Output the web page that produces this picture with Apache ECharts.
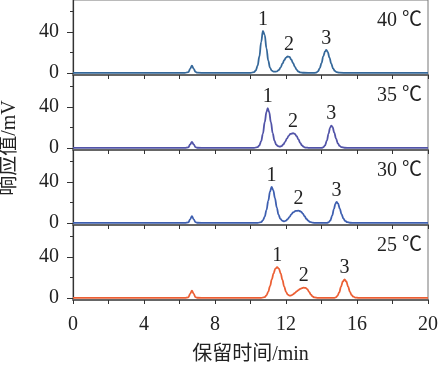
<!DOCTYPE html>
<html><head><meta charset="utf-8">
<script src="https://cdn.jsdelivr.net/npm/echarts@6/dist/echarts.min.js"></script>
<style>html,body{margin:0;padding:0;background:#fff}#c{width:441px;height:373px}</style>
</head><body><div id="c"></div>
<script>
// ---- data (retention time in min, response in mV) ----
const tempLabels = ['40 ℃', '35 ℃', '30 ℃', '25 ℃'];
const peakNames = ['1', '2', '3'];

const t40 = [0,2,4,6,6.3,6.5,6.6,6.7,6.8,6.9,7.0,7.5,9,10,10.2,10.3,10.4,10.5,10.6,10.7,10.8,10.9,11.0,11.1,11.2,11.3,11.4,11.5,11.6,11.7,11.8,11.9,12.0,12.1,12.2,12.3,12.4,12.5,12.6,12.7,12.8,13.0,13.5,13.7,13.8,13.9,14.0,14.1,14.2,14.27,14.35,14.45,14.55,14.65,14.75,14.85,15.0,15.5,17,20];
const v40 = [0,0,0,0,0,0.8,4,7,4,1,0.3,0,0,0,0.8,2.5,7,16,30,41,37,24,12,5,2.2,1.3,1.2,1.6,3,5.5,9,12.5,15,16,15.5,13,9.5,6,3,1.4,0.6,0.2,0,0.3,1.5,4.5,9.5,16,21,22.4,20.5,15,9,4.5,2,0.8,0.3,0,0,0];

const t35 = [0,2,4,6,6.3,6.5,6.6,6.7,6.8,6.9,7.0,7.5,9,10.2,10.4,10.5,10.6,10.7,10.8,10.9,10.97,11.05,11.15,11.25,11.35,11.45,11.55,11.65,11.75,11.85,11.95,12.05,12.15,12.25,12.4,12.5,12.6,12.7,12.8,12.9,13.0,13.1,13.3,14.0,14.1,14.2,14.3,14.4,14.48,14.55,14.62,14.72,14.82,14.92,15.02,15.12,15.3,15.6,17,20];
const v35 = [0,0,0,0,0,0.6,3.5,6,3.5,0.8,0.2,0,0,0,0.8,2.5,6.5,14,25,35,38.7,35,25,14.5,7,3.2,1.7,1.3,1.8,3.5,6,9,11.8,13.6,14.3,13.6,11.5,8.3,5,2.5,1.1,0.4,0,0,0.6,2.5,7,14,19.5,21.8,20.5,15,9,4.5,2,0.8,0.2,0,0,0];

const t30 = [0,2,4,6,6.3,6.5,6.6,6.7,6.8,6.9,7.0,7.5,9,10.4,10.6,10.7,10.8,10.9,11.0,11.1,11.19,11.28,11.38,11.48,11.58,11.68,11.8,11.9,12.0,12.1,12.2,12.3,12.4,12.55,12.7,12.85,12.95,13.05,13.15,13.25,13.35,13.5,13.7,14.3,14.4,14.5,14.6,14.7,14.78,14.85,14.93,15.03,15.13,15.23,15.33,15.45,15.6,15.9,17,20];
const v30 = [0,0,0,0,0,0.6,3.5,6.5,3.5,0.8,0.2,0,0,0,0.8,2.5,6,12.5,21.5,30.5,35,32,24,15,8,4,2,1.6,2.2,3.8,6,8.3,10.2,11.7,12,11,9,6.5,4,2.2,1,0.3,0,0,0.6,2.5,7,13.5,18.5,20.5,19,14,8.5,4.5,2,0.8,0.2,0,0,0];

const t25 = [0,2,4,6,6.3,6.5,6.6,6.7,6.8,6.9,7.0,7.5,9,10.6,10.8,10.9,11.0,11.1,11.2,11.3,11.4,11.5,11.6,11.7,11.8,11.9,12.0,12.1,12.2,12.3,12.4,12.5,12.6,12.7,12.8,12.9,13.0,13.1,13.2,13.3,13.4,13.5,13.6,13.8,14.7,14.8,14.9,15.0,15.1,15.2,15.3,15.4,15.5,15.6,15.7,15.8,15.9,16.1,17,20];
const v25 = [0,0,0,0,0,0.6,4,7,4,0.8,0.2,0,0,0,0.8,2.5,6,11.5,18,24,28.5,30,28.5,24,17.5,11,6,3.2,2.2,2.5,3.5,4.8,6.3,7.7,8.8,9.6,10,9.8,8.5,6,3.3,1.4,0.5,0.1,0,0.5,2,5.5,11,16,18,16,11,6,2.8,1.2,0.4,0,0,0];

const peakT40 = [10.7, 12.17, 14.27], peakH40 = [41, 16, 22.4];
const peakT35 = [10.97, 12.4, 14.55], peakH35 = [38.7, 14.3, 21.8];
const peakT30 = [11.19, 12.7, 14.85], peakH30 = [35, 12, 20.5];
const peakT25 = [11.5, 13.0, 15.3], peakH25 = [30, 10, 18];

const xTicks = { min: 0, max: 20, interval: 4 };
const yMajor = [0, 40], yMinor = [20, 60];
// ---- build ----
const seriesT = [t40, t35, t30, t25];
const seriesV = [v40, v35, v30, v25];
const peakT = [peakT40, peakT35, peakT30, peakT25];
const peakH = [peakH40, peakH35, peakH30, peakH25];
const colors = ['#35689a', '#5254a8', '#3e5fb0', '#ec5f34'];
const tops = [0, 75, 150, 225];
const FONT = "'Liberation Serif', 'Noto Sans CJK SC', serif";

const grid = [], xAxis = [], yAxis = [], series = [], title = [];
for (let i = 0; i < 4; i++) {
  grid.push({ left: 73, right: 13, top: tops[i], height: 75, show: true, borderColor: '#777', borderWidth: 1 });
  xAxis.push({
    type: 'value', gridIndex: i, min: xTicks.min, max: xTicks.max, interval: xTicks.interval,
    axisLine: { show: true, onZero: false, lineStyle: { color: '#666', width: 2 } },
    axisTick: { show: true, length: 4, lineStyle: { color: '#333', width: 1 } },
    minorTick: { show: true, splitNumber: 2, length: 4, lineStyle: { color: '#333', width: 1 } },
    splitLine: { show: false }, minorSplitLine: { show: false },
    axisLabel: { show: i === 3, margin: 15, fontSize: 20, color: '#222', fontFamily: FONT },
    name: i === 3 ? '保留时间/min' : '', nameLocation: 'middle', nameGap: 45,
    nameTextStyle: { fontSize: 20, color: '#222', fontFamily: FONT }
  });
  yAxis.push({
    type: 'value', gridIndex: i, min: -2, max: 71, position: 'left',
    axisLine: { show: true, lineStyle: { color: '#333', width: 1.2 } },
    axisTick: { show: true, length: 6, customValues: yMajor, lineStyle: { color: '#333' } },
    axisLabel: { show: true, customValues: yMajor, margin: 14, fontSize: 20, color: '#222', fontFamily: FONT },
    splitLine: { show: false }
  });
  yAxis.push({
    type: 'value', gridIndex: i, min: -2, max: 71, position: 'left', offset: 0,
    axisLine: { show: false },
    axisTick: { show: true, length: 3, customValues: yMinor, lineStyle: { color: '#333' } },
    axisLabel: { show: false }, splitLine: { show: false }
  });
  series.push({
    type: 'line', xAxisIndex: i, yAxisIndex: 2 * i, showSymbol: false, symbol: 'none',
    smooth: 0.4, smoothMonotone: 'x', silent: true,
    lineStyle: { color: colors[i], width: 1.8 },
    data: seriesT[i].map((t, k) => [t, seriesV[i][k]])
  });
  series.push({
    type: 'scatter', xAxisIndex: i, yAxisIndex: 2 * i, symbolSize: 1, silent: true,
    itemStyle: { color: '#fff', opacity: 1 },
    label: { show: true, position: 'top', distance: 1, fontSize: 20, color: '#222', opacity: 1,
      textBorderWidth: 0, fontFamily: FONT, formatter: p => peakNames[p.dataIndex] },
    data: peakT[i].map((t, k) => [t, peakH[i][k]]),
    z: 1
  });
  title.push({ text: tempLabels[i], right: 19, top: tops[i] + 11, padding: 0,
    textStyle: { fontSize: 20, fontWeight: 'normal', color: '#222', fontFamily: FONT } });
}

const chart = echarts.init(document.getElementById('c'), null, { renderer: 'canvas' });
chart.setOption({
  animation: false, backgroundColor: '#fff',
  title, grid, xAxis, yAxis, series,
  graphic: [{ type: 'text', x: 10, y: 148, rotation: Math.PI / 2,
    style: { text: '响应值/mV', fontSize: 20, fill: '#222', fontFamily: FONT, align: 'center', verticalAlign: 'middle' } }]
});
</script></body></html>
